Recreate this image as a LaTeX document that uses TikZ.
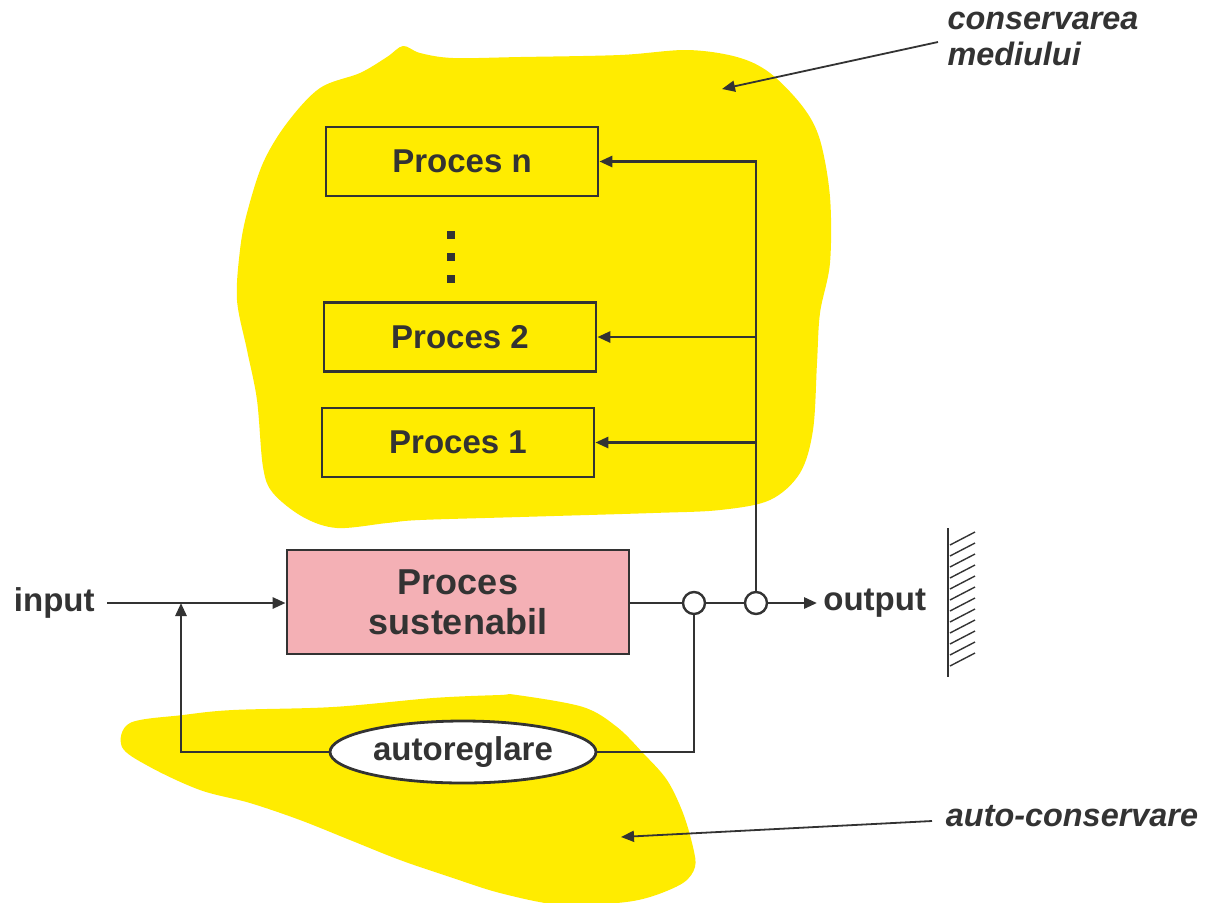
\documentclass[tikz,border=0pt]{standalone}
\usepackage{fontspec}
\setmainfont{Liberation Sans}
\usetikzlibrary{arrows.meta,shapes.geometric}
\definecolor{linec}{HTML}{333333}
\definecolor{yellowc}{RGB}{255,236,0}
\definecolor{pinkc}{RGB}{244,176,181}
\tikzset{
  ln/.style={draw=linec, line width=1.4pt},
  arr/.style={ln, -{Triangle[length=6.5pt,width=5.5pt]}},
  thinarr/.style={draw=linec, line width=0.9pt, -{Triangle[length=6.5pt,width=5.5pt]}},
  lbl/.style={font=\bfseries\fontsize{16.5}{18}\selectfont, text=linec},
  itl/.style={font=\bfseries\itshape\fontsize{16.2}{18}\selectfont, text=linec, align=left},
  procbox/.style={draw=linec, line width=1.4pt, minimum width=136pt, minimum height=34.5pt, inner sep=0pt, lbl},
  mainbox/.style={draw=linec, line width=1.4pt, fill=pinkc, minimum width=171pt, minimum height=52pt, inner sep=0pt, align=center, font=\bfseries\fontsize{18}{20}\selectfont, text=linec},
  junc/.style={circle, draw=linec, line width=1.2pt, fill=white, minimum size=11pt, inner sep=0pt},
  regl/.style={ellipse, draw=linec, line width=1.4pt, fill=white, minimum width=133pt, minimum height=31pt, inner sep=0pt, lbl},
  dotsq/.style={fill=linec, minimum size=3.6pt, inner sep=0pt},
}
\begin{document}
\begin{tikzpicture}[x=0.5pt,y=-0.5pt]
\clip (0,0) rectangle (1207,902);
\fill[white] (0,0) rectangle (1207,902);
% yellow blobs
\fill[yellowc] plot[smooth cycle, tension=0.55] coordinates {
 (403,46) (420,53) (453,58) (520,57) (620,55) (687,50) (737,57) (770,73)
 (803,107) (820,140) (830,197) (830,263) (820,313) (817,363) (813,430)
 (800,473) (770,500) (720,510) (653,513) (520,517) (420,520) (387,523)
 (337,528) (303,517) (273,493) (263,467) (257,400) (247,350) (237,300)
 (240,250) (247,213) (263,163) (287,123) (320,88) (360,73) (387,57)};
\fill[yellowc] plot[smooth cycle, tension=0.55] coordinates {
 (130,723) (183,715) (233,710) (333,707) (433,698) (500,695) (517,695)
 (583,707) (617,727) (643,753) (667,780) (683,813) (693,847) (695,867)
 (683,883) (650,897) (617,903) (560,905) (500,893) (450,877) (400,860)
 (350,840) (300,820) (250,803) (200,790) (150,767) (122,747)};
% process boxes
\node[procbox] (pn) at (462,161.5) {\raisebox{-1.5pt}{Proces n}};
\node[procbox] (p2) at (460,337) {\raisebox{-1.5pt}{Proces 2}};
\node[procbox] (p1) at (458,442.5) {\raisebox{-1.5pt}{Proces 1}};
\node[dotsq] (d1) at (451,235) {};
\node[dotsq] (d2) at (451,257) {};
\node[dotsq] (d3) at (451,279) {};
% main chain
\node[mainbox] (ps) at (458,602) {Proces\\sustenabil};
\node[lbl, anchor=east, inner sep=6pt] (in) at (107,603) {input};
\node[junc] (c1) at (694,603) {};
\node[junc] (c2) at (756,603) {};
\node[lbl, anchor=west, inner sep=3pt] (out) at (817,603) {output};
\coordinate (j1) at (181,603);
\node[regl] (ell) at (463,752) {autoreglare};
\draw[arr] (in.east) -- (ps.west |- in.east);
\draw[ln] (ps.east |- c1.west) -- (c1.west);
\draw[ln] (c1.east) -- (c2.west);
\draw[arr] (c2.east) -- (out.west);
\draw[arr] (ell.west) -| (j1);
\draw[ln] (c1.south) |- (ell.east);
\draw[arr] (c2.north) |- (pn.east);
\draw[arr] (p2.east -| c2) -- (p2.east);
\draw[arr] (p1.east -| c2) -- (p1.east);
% wall
\coordinate (wt) at (948,528);
\coordinate (wb) at (948,677);
\draw[ln] (wt) -- (wb);
\foreach \y in {545,556,...,675} {
  \draw[linec, line width=0.7pt] (950,\y) -- (975,\y-13);
}
% annotations
\node[itl] (cm) at (1043,39) {conservarea\\mediului};
\coordinate (cms) at (938,42);
\coordinate (cmt) at (722,89);
\draw[thinarr] (cms) -- (cmt);
\node[itl] (ac) at (1072,816) {auto-conservare};
\coordinate (acs) at (932,821);
\coordinate (act) at (621,837);
\draw[thinarr] (acs) -- (act);
\end{tikzpicture}
\end{document}
